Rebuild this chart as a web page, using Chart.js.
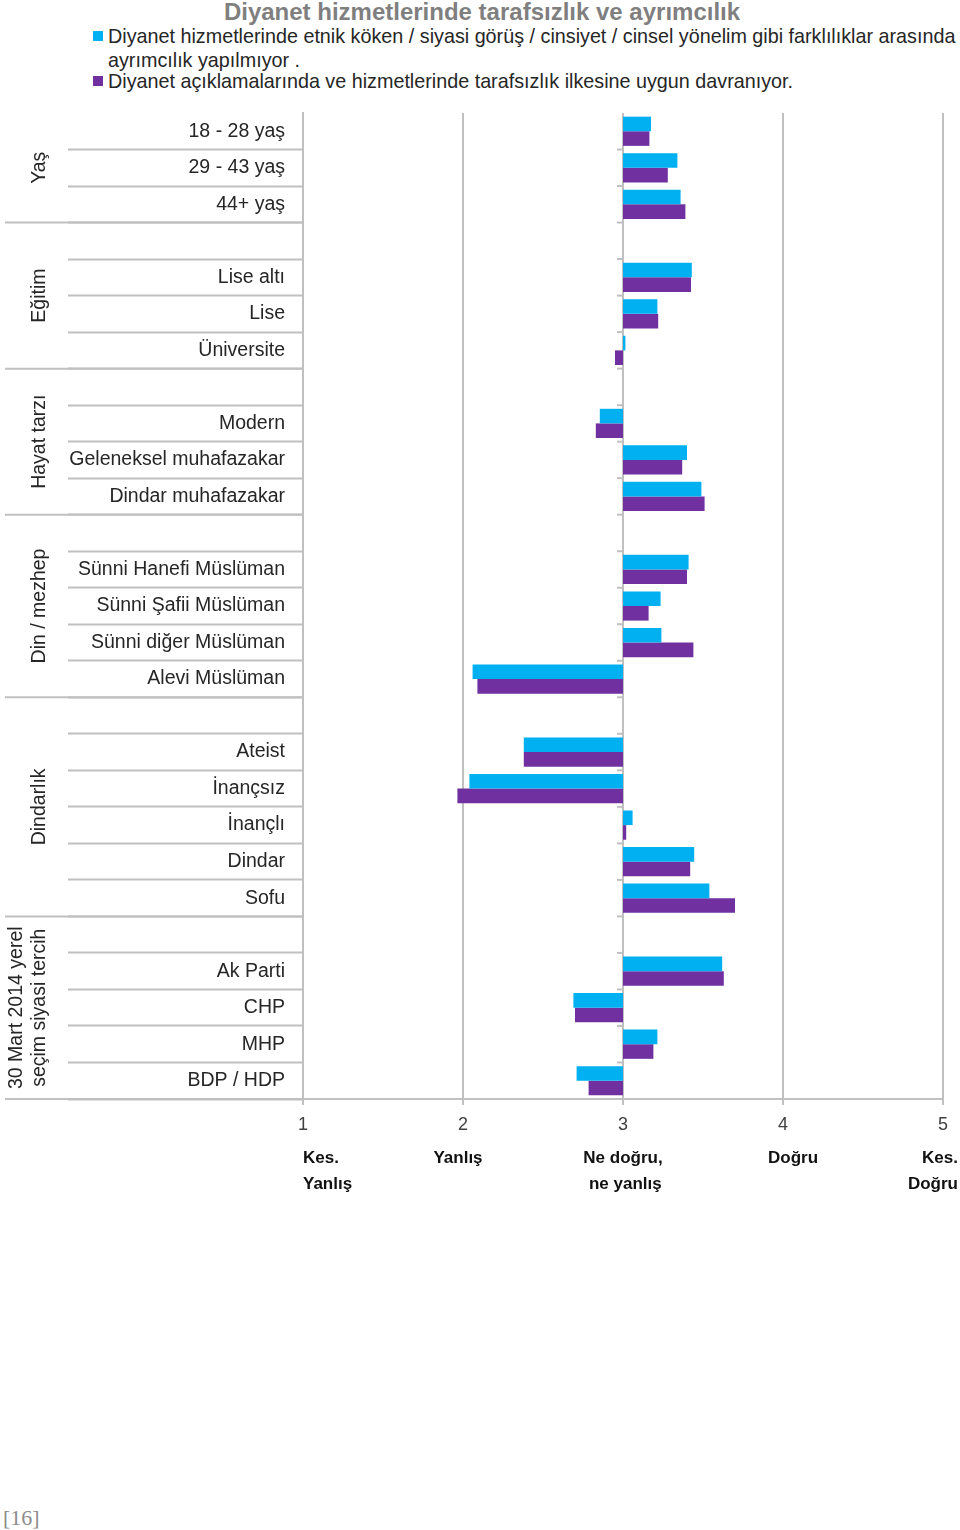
<!DOCTYPE html>
<html>
<head>
<meta charset="utf-8">
<script src="https://cdn.jsdelivr.net/npm/chart.js@4.4.0/dist/chart.umd.min.js"></script>
<style>
    body { margin: 0; width: 960px; height: 1530px; position: relative; background: #fff; overflow: hidden;
           font-family: "Liberation Sans", Arial, sans-serif; }
    #title { position: absolute; top: 0; left: 0; width: 964px; text-align: center; font-weight: bold;
             font-size: 24px; line-height: 24px; color: #7f7f7f; }
    .leg { position: absolute; left: 108px; font-size: 19.75px; line-height: 24px; color: #262626; white-space: nowrap; }
    .sw { position: absolute; left: 93px; width: 10px; height: 10px; }
    #page { position: absolute; left: 3px; top: 1505px; font-family: "Liberation Serif", serif; font-size: 22px; color: #8c8c8c; }
    #wrap { position: absolute; left: 0; top: 100px; width: 960px; height: 1120px; }
</style>
</head>
<body>
<div id="title">Diyanet hizmetlerinde tarafsızlık ve ayrımcılık</div>
<div class="sw" style="top:31px;background:#00b0f0"></div>
<div class="leg" style="top:24px">Diyanet hizmetlerinde etnik köken / siyasi görüş / cinsiyet / cinsel yönelim gibi farklılıklar arasında<br>ayrımcılık yapılmıyor .</div>
<div class="sw" style="top:76px;background:#7030a0"></div>
<div class="leg" style="top:69px">Diyanet açıklamalarında ve hizmetlerinde tarafsızlık ilkesine uygun davranıyor.</div>
<div id="wrap"><canvas id="chart"></canvas></div>
<div id="page">[16]</div>

<script>
// --- Data ---
const categories = [
    '18 - 28 yaş', '29 - 43 yaş', '44+ yaş', '',
    'Lise altı', 'Lise', 'Üniversite', '',
    'Modern', 'Geleneksel muhafazakar', 'Dindar muhafazakar', '',
    'Sünni Hanefi Müslüman', 'Sünni Şafii Müslüman', 'Sünni diğer Müslüman', 'Alevi Müslüman', '',
    'Ateist', 'İnançsız', 'İnançlı', 'Dindar', 'Sofu', '',
    'Ak Parti', 'CHP', 'MHP', 'BDP / HDP'
];

const ayrimcilikYok = [
    3.175, 3.34, 3.36, null,
    3.43, 3.215, 3.015, null,
    2.855, 3.40, 3.49, null,
    3.41, 3.235, 3.24, 2.06, null,
    2.38, 2.04, 3.06, 3.445, 3.54, null,
    3.62, 2.69, 3.215, 2.71
];

const tarafsizlik = [
    3.165, 3.28, 3.39, null,
    3.425, 3.22, 2.95, null,
    2.83, 3.37, 3.51, null,
    3.40, 3.16, 3.44, 2.09, null,
    2.38, 1.965, 3.02, 3.42, 3.70, null,
    3.63, 2.70, 3.19, 2.785
];

const seriesNames = [
    'Diyanet hizmetlerinde etnik köken / siyasi görüş / cinsiyet / cinsel yönelim gibi farklılıklar arasında ayrımcılık yapılmıyor .',
    'Diyanet açıklamalarında ve hizmetlerinde tarafsızlık ilkesine uygun davranıyor.'
];

const groupNames = ['Yaş', 'Eğitim', 'Hayat tarzı', 'Din / mezhep', 'Dindarlık', ['30 Mart 2014 yerel', 'seçim siyasi tercih']];
const groupSizes = [3, 4, 4, 5, 6, 5];

const scaleTicks = [1, 2, 3, 4, 5];
const scaleNames = [['Kes.', 'Yanlış'], ['Yanlış'], ['Ne doğru,', ' ne yanlış'], ['Doğru'], ['Kes.', 'Doğru']];
const baseline = 3;

// --- Styles ---
const lineGray = '#c0c0c0';
const textColor = '#262626';
const nameAlign = ['left', 'center', 'center', 'center', 'right'];
const nameShift = [0, -5, 0, 10, 15];

// bars start from the middle of the scale
function fromBase(values) {
    return values.map(v => v == null ? null : [baseline, v]);
}

// group separators, group titles, axis ticks at 3 and scale names
const sidePlugin = {
    id: 'side',
    afterDraw(chart) {
        const { ctx, chartArea } = chart;
        const x = chart.scales.x;
        const y = chart.scales.y;
        const step = y.getPixelForValue(1) - y.getPixelForValue(0);

        ctx.save();
        ctx.strokeStyle = lineGray;
        ctx.lineWidth = 2;

        let start = 0;
        groupSizes.forEach((n, g) => {
            const top = y.getPixelForValue(start) - step / 2;
            const bottom = y.getPixelForValue(start + n - 1) + step / 2;
            ctx.beginPath();
            ctx.moveTo(5, bottom);
            ctx.lineTo(chartArea.left, bottom);
            ctx.stroke();

            const lines = [].concat(groupNames[g]);
            ctx.save();
            ctx.translate(0, (top + bottom) / 2);
            ctx.rotate(-Math.PI / 2);
            ctx.fillStyle = textColor;
            ctx.font = '19.5px "Liberation Sans", Arial, sans-serif';
            ctx.textAlign = 'center';
            ctx.textBaseline = 'middle';
            lines.forEach((t, k) => {
                ctx.fillText(t, 0, 40 - (lines.length - 1 - k) * 23);
            });
            ctx.restore();
            start += n;
        });

        // small ticks on the axis at value 3
        const x3 = x.getPixelForValue(baseline);
        for (let i = 1; i < categories.length; i++) {
            const yy = y.getPixelForValue(i) - step / 2;
            ctx.beginPath();
            ctx.moveTo(x3 - 6, yy);
            ctx.lineTo(x3, yy);
            ctx.stroke();
        }

        // names under the scale numbers
        ctx.fillStyle = '#111';
        ctx.font = 'bold 17px "Liberation Sans", Arial, sans-serif';
        ctx.textBaseline = 'middle';
        scaleNames.forEach((lines, i) => {
            const px = x.getPixelForValue(scaleTicks[i]) + nameShift[i];
            ctx.textAlign = nameAlign[i];
            lines.forEach((t, k) => {
                ctx.fillText(t, px, chartArea.bottom + 59 + k * 26);
            });
        });
        ctx.restore();
    }
};

new Chart(document.getElementById('chart'), {
    type: 'bar',
    data: {
        labels: categories,
        datasets: [{
            label: seriesNames[0],
            data: fromBase(ayrimcilikYok),
            backgroundColor: '#00b0f0'
        }, {
            label: seriesNames[1],
            data: fromBase(tarafsizlik),
            backgroundColor: '#7030a0'
        }]
    },
    options: {
        indexAxis: 'y',
        responsive: true,
        maintainAspectRatio: false,
        animation: false,
        categoryPercentage: 0.8,
        barPercentage: 1.0,
        layout: { padding: { top: 13, right: 17, left: 0, bottom: 0 } },
        plugins: {
            legend: { display: false },
            tooltip: { enabled: false }
        },
        scales: {
            x: {
                min: scaleTicks[0],
                max: scaleTicks[scaleTicks.length - 1],
                afterFit: scale => { scale.height = 121; },
                ticks: {
                    stepSize: 1,
                    padding: 9,
                    color: '#404040',
                    font: { size: 18, family: '"Liberation Sans", Arial, sans-serif' }
                },
                grid: { color: lineGray, lineWidth: 2, tickLength: 6 },
                border: { display: true, color: lineGray, width: 2 }
            },
            y: {
                afterFit: scale => { scale.width = 303; },
                ticks: {
                    autoSkip: false,
                    padding: -217,
                    color: textColor,
                    font: { size: 19.5, family: '"Liberation Sans", Arial, sans-serif' }
                },
                grid: {
                    display: true,
                    drawOnChartArea: false,
                    drawTicks: true,
                    tickLength: 235,
                    tickWidth: 2,
                    tickColor: c => c.index === 0 ? 'rgba(0,0,0,0)' : lineGray
                },
                border: { display: true, color: lineGray, width: 2 }
            }
        }
    },
    plugins: [sidePlugin]
});
</script>
</body>
</html>
